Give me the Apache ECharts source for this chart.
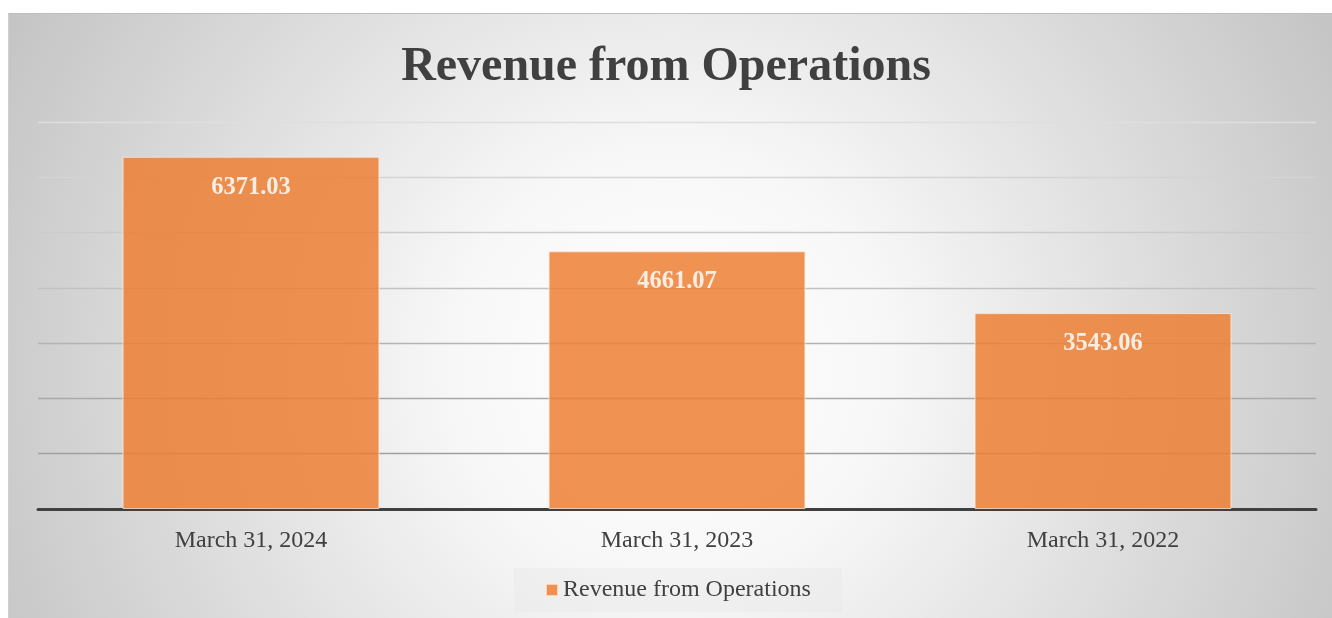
<!DOCTYPE html>
<html>
<head>
<meta charset="utf-8">
<title>Revenue from Operations</title>
<script src="https://cdn.jsdelivr.net/npm/echarts@6/dist/echarts.min.js"></script>
<style>
  html, body { margin: 0; padding: 0; background: #ffffff; }
  #wrap { position: relative; width: 1332px; height: 618px; overflow: hidden; }
  #panel {
    position: absolute; left: 8px; top: 13px; width: 1324px; height: 605px;
    box-sizing: border-box;
    border-top: 1px solid #bdbdbd;
    border-left: 1px solid #d0d0d0;
    background: radial-gradient(ellipse 56% 120% at 50% 58%, #ffffff 0%, #f7f7f7 30%, #c5c5c5 100%);
  }
  #chart { position: absolute; left: 0; top: 0; width: 1332px; height: 618px; }
</style>
</head>
<body>
<div id="wrap">
  <div id="panel"></div>
  <div id="chart"></div>
</div>
<script>
// Revenue figures per fiscal year end
const categories = ['March 31, 2024', 'March 31, 2023', 'March 31, 2022'];
const revenue = [6371.03, 4661.07, 3543.06];
const seriesName = 'Revenue from Operations';
const yTicks = { min: 0, max: 7000, interval: 1000 };

// Gridlines fade from darker at the bottom to lighter at the top (index 0 = value 0)
const gridColors = ['#9a9a9a', '#a0a0a0', '#a9a9a9', '#b4b4b4', '#c2c2c2', '#cbcbcb', '#d4d4d4', '#dedede'];

const serif = "'Liberation Serif', 'Times New Roman', serif";
const chart = echarts.init(document.getElementById('chart'), null, { renderer: 'canvas' });

chart.setOption({
  backgroundColor: 'transparent',
  animation: false,
  title: {
    text: seriesName,
    left: 'center',
    top: 39,
    textStyle: { fontFamily: serif, fontSize: 48, fontWeight: 'bold', color: '#404040' }
  },
  legend: {
    data: [seriesName],
    top: 568,
    left: 514,
    padding: [10, 31],
    backgroundColor: 'rgba(232,232,232,0.45)',
    itemWidth: 12,
    itemHeight: 12,
    icon: 'rect',
    textStyle: { fontFamily: serif, fontSize: 24, color: '#404040' }
  },
  grid: { left: 38, right: 16, top: 122, bottom: 109, containLabel: false },
  xAxis: {
    type: 'category',
    data: categories,
    axisTick: { show: false },
    axisLine: { show: true, lineStyle: { color: '#404040', width: 3 } },
    axisLabel: { margin: 20, fontFamily: serif, fontSize: 24, color: '#404040' }
  },
  yAxis: {
    type: 'value',
    min: yTicks.min,
    max: yTicks.max,
    interval: yTicks.interval,
    axisLabel: { show: false },
    axisLine: { show: false },
    axisTick: { show: false },
    splitLine: { show: true, lineStyle: { color: gridColors, width: 1.3 } }
  },
  series: [{
    name: seriesName,
    type: 'bar',
    data: revenue,
    barWidth: '60.3%',
    itemStyle: {
      color: '#ED7D31',
      opacity: 0.84,
      borderColor: 'rgba(255,235,220,0.9)',
      borderWidth: 1
    },
    label: {
      show: true,
      position: 'insideTop',
      distance: 18,
      fontFamily: serif,
      fontSize: 24.5,
      fontWeight: 'bold',
      color: '#ffffff',
      formatter: p => p.value.toFixed(2)
    }
  }]
});
</script>
</body>
</html>
